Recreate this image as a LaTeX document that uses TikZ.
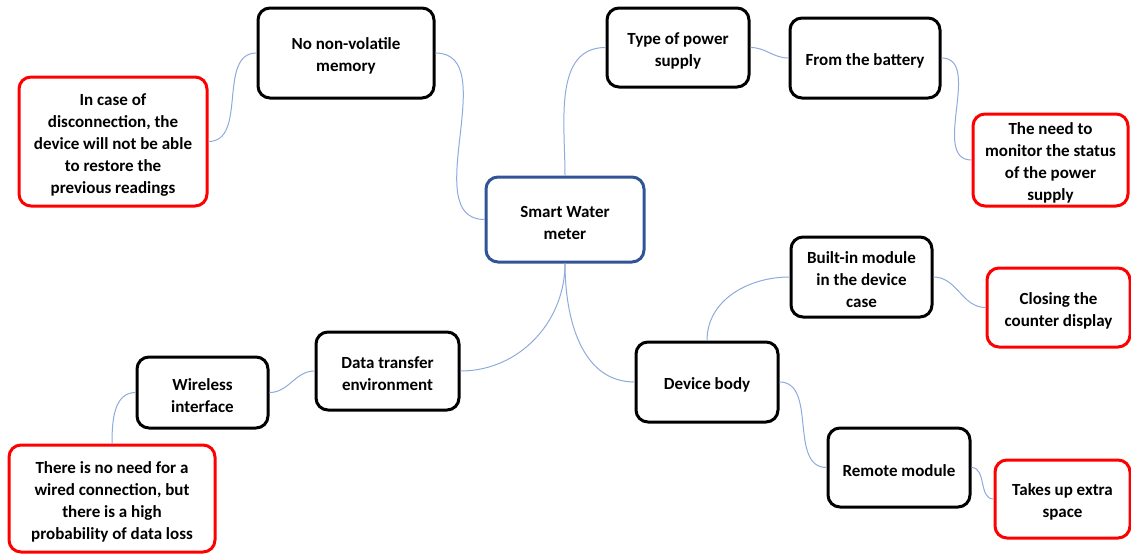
\documentclass[tikz,border=0pt]{standalone}
\usepackage{fontspec}
\setmainfont{Carlito}
\definecolor{conn}{HTML}{8FAADC}
\definecolor{mainblue}{HTML}{2F5597}
\newcommand{\fstrut}{\rule{0pt}{18pt}}
\tikzset{
  boxbase/.style={rounded corners=12pt, line width=3pt, align=center, inner sep=0pt,
    font=\bfseries\fontsize{17}{22}\selectfont, text=black, fill=white},
  blackbox/.style={boxbase, draw=black},
  redbox/.style={boxbase, draw=red},
  bluebox/.style={boxbase, draw=mainblue},
  link/.style={draw=conn, line width=1pt}
}
\begin{document}
\begin{tikzpicture}[x=1pt,y=1pt]
\useasboundingbox (0,0) rectangle (1131,-554);
% nodes
\node[blackbox, minimum width=176pt, minimum height=90pt] (nnm) at (346,-53) {\fstrut No non-volatile\\memory};
\node[redbox, minimum width=188pt, minimum height=129pt] (icd) at (113,-141.5) {\fstrut In case of\\disconnection, the\\device will not be able\\to restore the\\previous readings};
\node[bluebox, minimum width=158pt, minimum height=85pt] (swm) at (565,-219.5) {\fstrut Smart Water\\meter};
\node[blackbox, minimum width=142pt, minimum height=79pt] (tps) at (678,-47.5) {\fstrut Type of power\\supply};
\node[blackbox, minimum width=150pt, minimum height=80pt] (ftb) at (865,-58) {\fstrut From the battery};
\node[redbox, minimum width=155pt, minimum height=92pt] (ntm) at (1050.5,-160) {\fstrut The need to\\monitor the status\\of the power\\supply};
\node[blackbox, minimum width=141pt, minimum height=80pt] (bim) at (861.5,-277) {\fstrut Built-in module\\in the device\\case};
\node[redbox, minimum width=143pt, minimum height=79pt] (ctc) at (1058.5,-307.5) {\fstrut Closing the\\counter display};
\node[blackbox, minimum width=142pt, minimum height=80pt] (dvb) at (707,-382) {\fstrut Device body};
\node[blackbox, minimum width=142pt, minimum height=79pt] (rmm) at (899,-467.5) {\fstrut Remote module};
\node[redbox, minimum width=135pt, minimum height=78pt] (tue) at (1062.5,-499) {\fstrut Takes up extra\\space};
\node[blackbox, minimum width=131pt, minimum height=71pt] (wli) at (202.5,-392.5) {\fstrut Wireless\\interface};
\node[blackbox, minimum width=143pt, minimum height=78pt] (dte) at (387.5,-371) {\fstrut Data transfer\\environment};
\node[redbox, minimum width=206pt, minimum height=107pt] (tin) at (112,-498.5) {\fstrut There is no need for a\\wired connection, but\\there is a high\\probability of data loss};
% connectors
\draw[link] (nnm.west) to[out=180,in=0] (icd.east);
\draw[link] (nnm.east) to[out=0,in=180] (swm.west);
\draw[link] (swm.north) to[out=90,in=180] (tps.west);
\draw[link] (tps.east) to[out=0,in=180] (ftb.west);
\draw[link] (ftb.east) to[out=0,in=180] (ntm.west);
\draw[link] (swm.south) to[out=-90,in=0] (dte.east);
\draw[link] (swm.south) to[out=-90,in=180] (dvb.west);
\draw[link] (dte.west) to[out=180,in=0] (wli.east);
\draw[link] (wli.west) to[out=180,in=90] (tin.north);
\draw[link] (dvb.north) to[out=90,in=180] (bim.west);
\draw[link] (bim.east) to[out=0,in=180] (ctc.west);
\draw[link] (dvb.east) to[out=0,in=180] (rmm.west);
\draw[link] (rmm.east) to[out=0,in=180] (tue.west);
\end{tikzpicture}
\end{document}
